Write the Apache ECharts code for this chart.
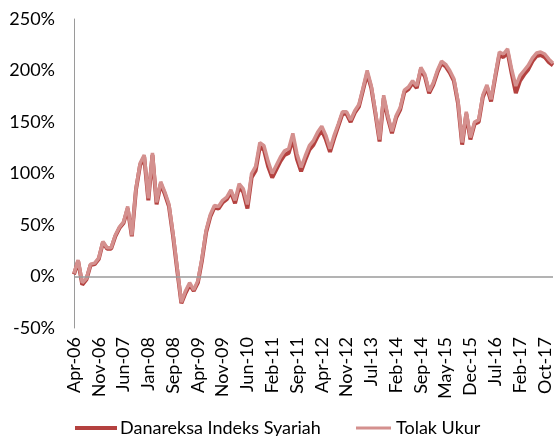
<!DOCTYPE html>
<html>
<head>
<meta charset="utf-8">
<script src="https://cdn.jsdelivr.net/npm/echarts@6/dist/echarts.min.js"></script>
<style>html,body{margin:0;padding:0;background:#fff;}#c{width:556px;height:436px;}</style>
</head>
<body>
<div id="c"></div>
<script>
var tickLabels = ['Apr-06','Nov-06','Jun-07','Jan-08','Sep-08','Apr-09','Nov-09','Jun-10','Feb-11','Sep-11','Apr-12','Nov-12','Jul-13','Feb-14','Sep-14','May-15','Dec-15','Jul-16','Feb-17','Oct-17'];
var pointsPerTick = 6;

var danareksa = [2,15,-8,-3,11,12,17,33,27,27,39,47,52,66,39,84,108,116,74,118,70,90,80,68,39,6,-26,-16,-8,-14,-6,16,43,58,67,66,72,75,82,71,87,82,66,96,103,126,123,107,96,104,112,118,120,134,114,102,113,123,128,136,142,133,121,134,146,158,158,150,159,165,181,197,183,158,131,173,154,139,154,162,179,182,188,183,201,194,178,186,198,207,204,198,190,168,128,158,133,148,150,174,184,170,193,215,213,218,197,178,190,196,201,209,214,215,213,208,205];

var tolakUkur = [3,16,-6,-2,12,13,18,34,28,28,40,48,53,68,40,85,110,118,76,120,72,92,82,70,41,8,-25,-14,-6,-13,-4,18,45,60,69,68,74,77,84,74,90,85,70,100,107,130,127,112,100,108,116,122,124,139,119,106,117,127,132,140,146,137,124,137,148,160,160,152,161,167,183,200,185,160,133,176,156,141,156,164,181,184,190,185,203,196,180,188,200,209,206,200,192,170,130,160,135,150,152,176,186,172,195,218,216,221,201,185,195,200,205,212,217,218,216,211,207];

var yTicks = [-50, 250, 50];

var categories = [];
for (var i = 0; i < tolakUkur.length; i++) {
  categories.push(i % pointsPerTick === 0 ? (tickLabels[i / pointsPerTick] || '') : '');
}

var font = 'Lato, "Open Sans", sans-serif';
var darkColor = '#b4413f';
var pinkColor = '#d4908e';
var chart = echarts.init(document.getElementById('c'), null, {renderer: 'canvas'});
chart.setOption({
  animation: false,
  backgroundColor: '#ffffff',
  grid: {left: 74, right: 3, top: 19, bottom: 108, containLabel: false},
  legend: [
    {
      top: 414, left: 70,
      itemWidth: 42, itemHeight: 4, itemGap: 0,
      textStyle: {fontFamily: font, fontSize: 18, color: '#000', padding: [0, 0, 0, -2]},
      data: [{name: 'Danareksa Indeks Syariah', icon: 'rect', itemStyle: {color: darkColor}}]
    },
    {
      top: 414, left: 351,
      itemWidth: 35, itemHeight: 3, itemGap: 0,
      textStyle: {fontFamily: font, fontSize: 18, color: '#000'},
      data: [{name: 'Tolak Ukur', icon: 'rect', itemStyle: {color: pinkColor}}]
    }
  ],
  xAxis: {
    type: 'category',
    data: categories,
    boundaryGap: false,
    axisLine: {show: false},
    axisTick: {show: false},
    splitLine: {show: false},
    axisLabel: {
      interval: pointsPerTick - 1,
      rotate: 90,
      margin: 9,
      fontFamily: font, fontSize: 18, color: '#000'
    }
  },
  yAxis: {
    type: 'value',
    min: yTicks[0], max: yTicks[1], interval: yTicks[2],
    axisLine: {show: true, lineStyle: {color: '#9a9a9a', width: 1}},
    axisTick: {show: false},
    splitLine: {show: false},
    axisLabel: {
      margin: 19,
      fontFamily: font, fontSize: 18, color: '#000',
      formatter: function (v) { return v + '%'; }
    }
  },
  series: [
    {
      name: 'Danareksa Indeks Syariah',
      type: 'line',
      data: danareksa,
      showSymbol: false,
      symbol: 'none',
      lineStyle: {color: darkColor, width: 4},
      itemStyle: {color: darkColor},
      markLine: {
        silent: true, symbol: 'none', label: {show: false},
        lineStyle: {color: '#9a9a9a', width: 1.5, type: 'solid'},
        data: [{yAxis: 0}]
      },
      z: 2
    },
    {
      name: 'Tolak Ukur',
      type: 'line',
      data: tolakUkur,
      showSymbol: false,
      symbol: 'none',
      lineStyle: {color: pinkColor, width: 3.5},
      itemStyle: {color: pinkColor},
      z: 3
    }
  ]
});
</script>
</body>
</html>
